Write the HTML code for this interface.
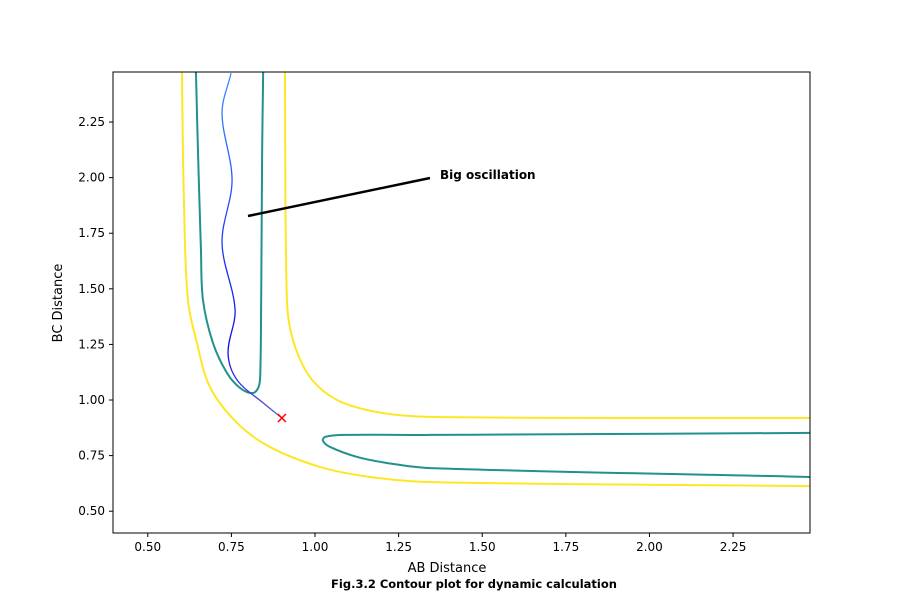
<!DOCTYPE html>
<html><head><meta charset="utf-8"><style>
body{margin:0;background:#fff;}
svg text{font-family:"DejaVu Sans","Liberation Sans",sans-serif;}
</style></head><body>
<svg id="chart" width="900" height="599" xmlns="http://www.w3.org/2000/svg">
<rect width="900" height="599" fill="#fff"/>
<g id="marks"></g>
<rect x="113" y="72" width="697" height="461" fill="none" stroke="#000" stroke-width="1"/>
<g id="axes"></g>
<text x="447" y="572" font-size="13" text-anchor="middle">AB Distance</text>
<text transform="translate(62,303) rotate(-90)" font-size="13" text-anchor="middle">BC Distance</text>
<text x="474" y="588" font-size="11.5" font-weight="bold" text-anchor="middle" font-family="Liberation Sans">Fig.3.2 Contour plot for dynamic calculation</text>
<line x1="248" y1="216" x2="430" y2="178" stroke="#000" stroke-width="2.5"/>
<text x="440" y="179" font-size="12" font-weight="bold" font-family="Liberation Sans">Big oscillation</text>
</svg>
<script>
const xTicks=[0.5,0.75,1.0,1.25,1.5,1.75,2.0,2.25];
const yTicks=[0.5,0.75,1.0,1.25,1.5,1.75,2.0,2.25];
const greenLeftX=[0.644,0.650,0.659,0.665,0.695,0.737,0.776,0.812,0.830,0.836,0.839,0.842,0.845];
const greenLeftY=[2.475,2.124,1.674,1.450,1.256,1.121,1.054,1.031,1.054,1.103,1.450,2.124,2.475];
const greenLobeX=[2.480,1.344,1.084,1.030,1.024,1.045,1.126,1.215,1.344,2.480];
const greenLobeY=[0.852,0.843,0.843,0.834,0.816,0.789,0.744,0.717,0.694,0.654];
const yellowOuterX=[0.602,0.608,0.620,0.647,0.686,0.767,0.865,1.015,1.164,1.344,2.480];
const yellowOuterY=[2.475,1.899,1.450,1.256,1.058,0.897,0.789,0.699,0.654,0.631,0.613];
const yellowInnerX=[0.910,0.916,0.934,0.985,1.066,1.185,1.344,2.480];
const yellowInnerY=[2.475,1.450,1.270,1.103,1.000,0.946,0.924,0.919];
const trajX=[0.749,0.722,0.752,0.722,0.761,0.740,0.767,0.845,0.901];
const trajY=[2.470,2.290,1.989,1.706,1.405,1.211,1.090,0.987,0.919];
const endX=0.901, endY=0.919;

const X0=0.396,X1=2.480,Y0=0.402,Y1=2.475,L=113,R=810,T=72,B=533;
const sx=v=>L+(v-X0)/(X1-X0)*(R-L);
const sy=v=>B-(v-Y0)/(Y1-Y0)*(B-T);
const NS='http://www.w3.org/2000/svg';
const marks=document.getElementById('marks'),axes=document.getElementById('axes');
function smooth(xs,ys){
  const p=xs.map((x,i)=>[sx(x),sy(ys[i])]);
  const n=p.length;
  const tan=p.map((q,i)=>{const a=p[Math.max(0,i-1)],b=p[Math.min(n-1,i+1)];
    const dx=b[0]-a[0],dy=b[1]-a[1],l=Math.hypot(dx,dy)||1;return [dx/l,dy/l];});
  let d='M'+p[0][0]+','+p[0][1];
  for(let i=0;i<n-1;i++){
    const p1=p[i],p2=p[i+1],len=Math.hypot(p2[0]-p1[0],p2[1]-p1[1])/3;
    const c1=[p1[0]+tan[i][0]*len,p1[1]+tan[i][1]*len];
    const c2=[p2[0]-tan[i+1][0]*len,p2[1]-tan[i+1][1]*len];
    d+=` C${c1[0]},${c1[1]} ${c2[0]},${c2[1]} ${p2[0]},${p2[1]}`;
  }
  return d;
}
const clip=document.createElementNS(NS,'clipPath');clip.id='cp';
const cr=document.createElementNS(NS,'rect');cr.setAttribute('x',L);cr.setAttribute('y',T);cr.setAttribute('width',R-L);cr.setAttribute('height',B-T);
clip.appendChild(cr);marks.appendChild(clip);
function addPath(xs,ys,color,w,name){
  const p=document.createElementNS(NS,'path');
  p.setAttribute('d',smooth(xs,ys));p.setAttribute('fill','none');p.setAttribute('stroke',color);
  p.setAttribute('stroke-width',w);p.setAttribute('clip-path','url(#cp)');
  
  
  marks.appendChild(p);
}
addPath(yellowOuterX,yellowOuterY,'#fde725',2,'contour-outer-yellow');
addPath(yellowInnerX,yellowInnerY,'#fde725',2,'contour-inner-yellow');
addPath(greenLeftX,greenLeftY,'#21918c',2,'contour-green-left');
addPath(greenLobeX,greenLobeY,'#21918c',2,'contour-green-lobe');
const grad=document.createElementNS(NS,'linearGradient');grad.id='tg';
grad.setAttribute('gradientUnits','userSpaceOnUse');
grad.setAttribute('x1',0);grad.setAttribute('y1',sy(trajY[0]));grad.setAttribute('x2',0);grad.setAttribute('y2',sy(trajY[trajY.length-1]));
[['0','#3a8cff'],['0.45','#1f3fff'],['0.8','#1010e0'],['1','#5a5ad0']].forEach(s=>{const st=document.createElementNS(NS,'stop');st.setAttribute('offset',s[0]);st.setAttribute('stop-color',s[1]);grad.appendChild(st);});
marks.appendChild(grad);
addPath(trajX,trajY,'url(#tg)',1.3,'trajectory-line');
const ex=sx(endX),ey=sy(endY);
const m=document.createElementNS(NS,'path');
m.setAttribute('d',`M${ex-4},${ey-4}L${ex+4},${ey+4}M${ex-4},${ey+4}L${ex+4},${ey-4}`);
m.setAttribute('stroke','#ff0000');m.setAttribute('stroke-width',1.5);


marks.appendChild(m);
function tick(x1,y1,x2,y2){const l=document.createElementNS(NS,'line');l.setAttribute('x1',x1);l.setAttribute('y1',y1);l.setAttribute('x2',x2);l.setAttribute('y2',y2);l.setAttribute('stroke','#000');


axes.appendChild(l);}
function label(x,y,t,anchor,name){const e=document.createElementNS(NS,'text');e.setAttribute('x',x);e.setAttribute('y',y);e.setAttribute('font-size','12');e.setAttribute('text-anchor',anchor);e.textContent=t;


axes.appendChild(e);}
xTicks.forEach(v=>{const x=sx(v);tick(x,B,x,B+4);label(x,B+18,v.toFixed(2),'middle','x-tick-label');});
yTicks.forEach(v=>{const y=sy(v);tick(L-4,y,L,y);label(L-8,y+4,v.toFixed(2),'end','y-tick-label');});
</script>
</body></html>
